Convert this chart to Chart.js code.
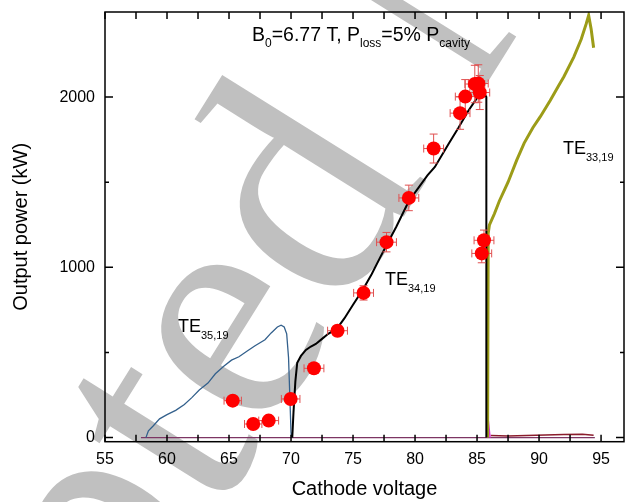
<!DOCTYPE html>
<html>
<head>
<meta charset="utf-8">
<script src="https://cdn.jsdelivr.net/npm/chart.js@4.4.0/dist/chart.umd.min.js"></script>
<style>
  html, body { margin: 0; padding: 0; background: #fff; }
  #chart { display: block; }
</style>
</head>
<body>
<canvas id="chart" width="631" height="502"></canvas>
<script>
// TE35,19 trace (blue)
const te35Volt  = [58.3, 58.5, 58.9, 59.4, 60.0, 60.7, 61.4, 62.0, 62.6, 63.3, 63.9, 64.6, 65.2, 65.8, 66.5, 67.1, 67.9, 68.4, 68.9, 69.2, 69.45, 69.65, 69.8, 69.9, 70.0, 70.05];
const te35Power = [0, 40, 70, 110, 135, 160, 195, 235, 280, 320, 375, 420, 455, 475, 510, 540, 575, 615, 650, 660, 650, 610, 470, 250, 30, 0];

// TE34,19 trace (black)
const te34Volt  = [70.1, 70.2, 70.35, 70.5, 70.8, 71.2, 71.6, 72.0, 72.5, 73.0, 73.7, 74.3, 75.0, 75.8, 76.5, 77.2, 77.7, 78.5, 79.5, 80.3, 81.0, 81.6, 82.7, 83.5, 84.3, 84.95, 85.35, 85.6, 85.75, 85.75];
const te34Power = [0, 150, 330, 440, 480, 515, 535, 550, 580, 610, 640, 700, 780, 870, 960, 1060, 1130, 1240, 1390, 1470, 1540, 1590, 1725, 1820, 1920, 1990, 2030, 2020, 2000, 0];

// TE33,19 trace (olive)
const te33Volt  = [85.85, 85.9, 86.0, 86.4, 86.8, 87.5, 88.2, 88.8, 89.5, 90.1, 90.9, 91.6, 92.0, 92.8, 93.4, 93.8, 94.0, 94.2, 94.4];
const te33Power = [0, 1200, 1250, 1315, 1390, 1500, 1630, 1730, 1820, 1885, 1980, 2070, 2120, 2235, 2340, 2430, 2480, 2400, 2290];

// other modes near zero
const baseVolt  = [57.9, 94.5];
const basePower = [0, 0];
const lowVolt   = [86.1, 87.5, 89, 90.5, 92, 93.5, 94.4];
const lowPower  = [12, 10, 13, 15, 18, 20, 14];
const spikeVolt  = [85.85, 85.95, 86.05];
const spikePower = [0, 70, 0];

// measured points
const measVolt  = [65.3, 66.95, 68.2, 69.97, 71.85, 73.75, 75.85, 77.7, 79.5, 81.5, 83.63, 84.05, 84.82, 85.1, 85.22, 85.56, 85.38];
const measPower = [217, 80, 100, 227, 407, 628, 850, 1148, 1408, 1698, 1906, 2003, 2077, 2080, 2027, 1159, 1082];
const measVoltErr  = [0.7, 0.7, 0.8, 0.75, 0.8, 0.8, 0.8, 0.8, 0.8, 0.8, 0.8, 0.8, 0.8, 0.8, 0.8, 0.8, 0.8];
const measPowerErr = [10, 5, 5, 12, 20, 30, 42, 57, 75, 85, 95, 100, 110, 110, 100, 60, 55];

const xTicks = [55, 57.5, 60, 62.5, 65, 67.5, 70, 72.5, 75, 77.5, 80, 82.5, 85, 87.5, 90, 92.5, 95];
const yTicks = [0, 500, 1000, 1500, 2000];
const yLabelTicks = [0, 1000, 2000];

const FONT = '"Liberation Sans", Arial, sans-serif';
const toPts = (xs, ys) => xs.map((x, i) => ({ x: x, y: ys[i] }));

const lineSet = (label, xs, ys, color, width) => ({
  label: label,
  data: toPts(xs, ys),
  showLine: true,
  borderColor: color,
  borderWidth: width,
  pointRadius: 0,
  fill: false,
  tension: 0
});

// gray diagonal watermark behind everything
const watermark = {
  id: 'watermark',
  beforeDraw(chart) {
    const ctx = chart.ctx;
    ctx.save();
    ctx.fillStyle = '#fff';
    ctx.fillRect(0, 0, chart.width, chart.height);
    ctx.translate(341, 317);
    ctx.rotate(-58 * Math.PI / 180);
    ctx.font = '330px "Liberation Serif", "Times New Roman", serif';
    ctx.fillStyle = '#c0c0c0';
    const pre = ctx.measureText('Accepte').width;
    ctx.fillText('Accepted Manuscript', -pre, 0);
    ctx.restore();
  }
};

// red error bars under the markers
const errorBars = {
  id: 'errorBars',
  beforeDatasetDraw(chart, args) {
    if (args.index !== 0) return;
    const ctx = chart.ctx, xs = chart.scales.x, ys = chart.scales.y;
    ctx.save();
    ctx.strokeStyle = '#e05050';
    ctx.lineWidth = 1;
    measVolt.forEach((v, i) => {
      const px = xs.getPixelForValue(v), py = ys.getPixelForValue(measPower[i]);
      const x0 = xs.getPixelForValue(v - measVoltErr[i]), x1 = xs.getPixelForValue(v + measVoltErr[i]);
      const y0 = ys.getPixelForValue(measPower[i] - measPowerErr[i]), y1 = ys.getPixelForValue(measPower[i] + measPowerErr[i]);
      ctx.beginPath();
      ctx.moveTo(x0, py); ctx.lineTo(x1, py);
      ctx.moveTo(x0, py - 4); ctx.lineTo(x0, py + 4);
      ctx.moveTo(x1, py - 4); ctx.lineTo(x1, py + 4);
      ctx.moveTo(px, y0); ctx.lineTo(px, y1);
      ctx.moveTo(px - 4, y0); ctx.lineTo(px + 4, y0);
      ctx.moveTo(px - 4, y1); ctx.lineTo(px + 4, y1);
      ctx.stroke();
    });
    ctx.restore();
  }
};

// frame with inward ticks on all four sides
const frame = {
  id: 'frame',
  afterDraw(chart) {
    const ctx = chart.ctx, a = chart.chartArea, xs = chart.scales.x, ys = chart.scales.y;
    ctx.save();
    ctx.strokeStyle = '#000';
    ctx.lineWidth = 1.5;
    ctx.strokeRect(a.left, a.top, a.right - a.left, a.bottom - a.top);
    ctx.beginPath();
    xTicks.forEach(v => {
      const p = xs.getPixelForValue(v);
      ctx.moveTo(p, a.bottom); ctx.lineTo(p, a.bottom - 7);
      ctx.moveTo(p, a.top); ctx.lineTo(p, a.top + 7);
    });
    yTicks.forEach(v => {
      const p = ys.getPixelForValue(v);
      const len = yLabelTicks.includes(v) ? 8 : 4;
      ctx.moveTo(a.left, p); ctx.lineTo(a.left + len, p);
      ctx.moveTo(a.right, p); ctx.lineTo(a.right - len, p);
    });
    ctx.stroke();
    ctx.restore();
  }
};

// text with subscripts: parts = [[text, isSub], ...]
function drawSubText(ctx, x, y, parts, size, subSize, drop) {
  parts.forEach(([t, sub]) => {
    ctx.font = (sub ? subSize : size) + 'px ' + FONT;
    ctx.fillText(t, x, sub ? y + drop : y);
    x += ctx.measureText(t).width;
  });
}

const labels = {
  id: 'labels',
  afterDatasetsDraw(chart) {
    const ctx = chart.ctx;
    ctx.save();
    ctx.fillStyle = '#000';
    ctx.textBaseline = 'alphabetic';
    drawSubText(ctx, 252, 40.5, [['B', 0], ['0', 1], ['=6.77 T, P', 0], ['loss', 1], ['=5% P', 0], ['cavity', 1]], 19.5, 12, 6);
    drawSubText(ctx, 178, 331.5, [['TE', 0], ['35,19', 1]], 18, 11, 7);
    drawSubText(ctx, 385, 285, [['TE', 0], ['34,19', 1]], 18, 11, 7);
    drawSubText(ctx, 563, 154, [['TE', 0], ['33,19', 1]], 18, 11, 7);
    ctx.restore();
  }
};

new Chart(document.getElementById('chart'), {
  type: 'scatter',
  data: {
    datasets: [
      {
        label: 'Measured',
        data: toPts(measVolt, measPower),
        pointRadius: 7,
        pointHoverRadius: 7,
        backgroundColor: '#ff0000',
        borderColor: '#ff0000',
        borderWidth: 0
      },
      lineSet('TE34,19', te34Volt, te34Power, '#000000', 2),
      lineSet('TE35,19', te35Volt, te35Power, '#33608c', 1.3),
      lineSet('TE33,19', te33Volt, te33Power, '#9c9c18', 3),
      lineSet('spike', spikeVolt, spikePower, '#e030e0', 1.5),
      lineSet('low', lowVolt, lowPower, '#8b1c2c', 1.5),
      lineSet('base', baseVolt, basePower, '#7d3563', 1.2)
    ]
  },
  options: {
    responsive: false,
    animation: false,
    devicePixelRatio: 1,
    layout: { padding: { top: 12, right: 0, left: 0, bottom: 0 } },
    plugins: {
      legend: { display: false },
      tooltip: { enabled: false }
    },
    scales: {
      x: {
        type: 'linear',
        min: 55,
        max: 96.85,
        afterBuildTicks: s => { s.ticks = xTicks.map(v => ({ value: v })); },
        afterFit: s => { s.height = 60.3; s.paddingLeft = 0; s.paddingRight = 0; },
        grid: { display: false, drawTicks: false },
        border: { display: false },
        ticks: {
          color: '#000',
          font: { family: FONT, size: 16 },
          padding: 8,
          maxRotation: 0,
          autoSkip: false,
          callback: v => (v % 5 === 0 ? String(v) : '')
        },
        title: {
          display: true,
          text: 'Cathode voltage',
          color: '#000',
          font: { family: FONT, size: 20 },
          padding: { top: 0, bottom: 1 }
        }
      },
      y: {
        type: 'linear',
        min: -24,
        max: 2500,
        afterBuildTicks: s => { s.ticks = yTicks.map(v => ({ value: v })); },
        afterFit: s => { s.width = 105; s.paddingTop = 0; s.paddingBottom = 0; },
        grid: { display: false, drawTicks: false },
        border: { display: false },
        ticks: {
          color: '#000',
          font: { family: FONT, size: 16 },
          padding: 10,
          callback: v => (yLabelTicks.includes(v) ? String(v) : '')
        },
        title: {
          display: true,
          text: 'Output power (kW)',
          color: '#000',
          font: { family: FONT, size: 20 },
          padding: { top: 9, bottom: 0 }
        }
      }
    }
  },
  plugins: [watermark, errorBars, labels, frame]
});
</script>
</body>
</html>
